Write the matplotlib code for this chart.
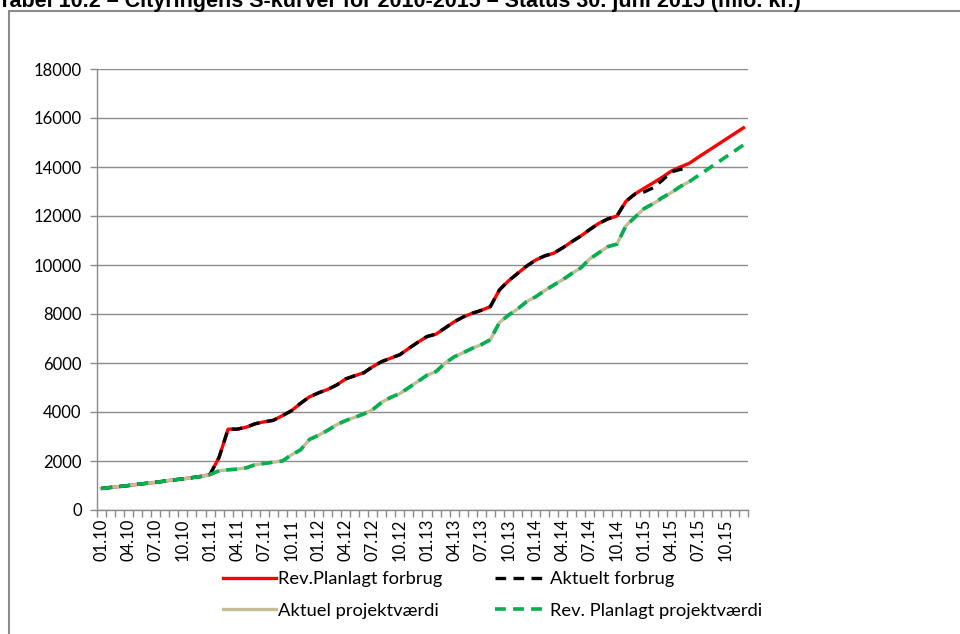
import matplotlib
matplotlib.use('Agg')
import matplotlib.pyplot as plt
from matplotlib.patches import Rectangle

plt.rcParams['font.family'] = ['Lato', 'DejaVu Sans']

# month labels 01.10 .. 12.15, only every third is shown
months = ['%02d.%02d' % (m, y) for y in range(10, 16) for m in range(1, 13)]

rev_planlagt_forbrug = [880, 920, 960, 1000, 1050, 1090, 1130, 1180, 1230, 1270, 1320, 1370,
                        1450, 2150, 3300, 3300, 3380, 3520, 3600, 3660, 3850, 4050, 4350, 4620,
                        4780, 4920, 5100, 5350, 5480, 5600, 5850, 6060, 6200, 6340, 6600, 6850,
                        7080, 7180, 7430, 7680, 7880, 8030, 8150, 8300, 8980, 9350, 9650, 9950,
                        10200, 10370, 10480, 10700, 10950, 11180, 11450, 11700, 11880, 12000, 12600, 12900,
                        13130, 13350, 13580, 13830, 14000, 14150, 14400, 14640, 14880, 15120, 15360, 15600]

aktuelt_forbrug = [880, 920, 960, 1000, 1050, 1090, 1130, 1180, 1230, 1270, 1320, 1370,
                   1450, 2150, 3300, 3300, 3380, 3520, 3600, 3660, 3850, 4050, 4350, 4620,
                   4780, 4920, 5100, 5350, 5480, 5600, 5850, 6060, 6200, 6340, 6600, 6850,
                   7080, 7180, 7430, 7680, 7880, 8030, 8150, 8300, 8980, 9350, 9650, 9950,
                   10200, 10370, 10480, 10700, 10950, 11180, 11450, 11700, 11880, 12000, 12600, 12900,
                   12980, 13150, 13450, 13800, 13900, 13950]

rev_planlagt_projektvaerdi = [880, 920, 960, 1000, 1050, 1090, 1130, 1180, 1230, 1270, 1320, 1370,
                              1450, 1600, 1640, 1670, 1720, 1850, 1900, 1950, 2000, 2250, 2450, 2880,
                              3050, 3250, 3480, 3650, 3780, 3920, 4100, 4400, 4600, 4750, 5000, 5250,
                              5500, 5650, 6000, 6250, 6420, 6600, 6750, 6950, 7650, 7950, 8200, 8500,
                              8700, 8950, 9180, 9400, 9650, 9880, 10250, 10500, 10750, 10850, 11600, 11950,
                              12300, 12500, 12750, 12950, 13200, 13400, 13650, 13900, 14150, 14400, 14650, 14900]

aktuel_projektvaerdi = [880, 920, 960, 1000, 1050, 1090, 1130, 1180, 1230, 1270, 1320, 1370,
                        1450, 1600, 1640, 1670, 1720, 1850, 1900, 1950, 2000, 2250, 2450, 2880,
                        3050, 3250, 3480, 3650, 3780, 3920, 4100, 4400, 4600, 4750, 5000, 5250,
                        5500, 5650, 6000, 6250, 6420, 6600, 6750, 6950, 7650, 7950, 8200, 8500,
                        8700, 8950, 9180, 9400, 9650, 9880, 10250, 10500, 10750, 10850, 11600, 11950,
                        12300, 12500, 12720, 12950, 13200, 13400]

fig = plt.figure(figsize=(9.6, 6.34), dpi=100)

# outer chart frame, cut by the right and bottom edges
fig.patches.append(Rectangle((8.5 / 960, -0.1), 1.0, 1 - 10.5 / 634 + 0.1, transform=fig.transFigure,
                             fill=False, edgecolor='#8c8c8c', linewidth=1.5))

# title sits half outside the top edge, as in the source picture
fig.text(-0.002, 1 - 7 / 634, 'Tabel 10.2 \u2013 Cityringens S-kurver for 2010-2015 \u2013 Status 30. juni 2015 (mio. kr.)',
         family=['Liberation Sans Narrow', 'Liberation Sans', 'DejaVu Sans'], weight='bold', fontsize=15.5,
         va='baseline', ha='left')

ax = fig.add_axes([97 / 960, (634 - 510) / 634, 651 / 960, 441 / 634])

x_all = list(range(len(months)))
l1, = ax.plot(x_all, rev_planlagt_forbrug, color='#ff0000', lw=2.4, solid_joinstyle='round')
l3, = ax.plot(x_all[:len(aktuel_projektvaerdi)], aktuel_projektvaerdi, color='#c4bd97', lw=2.4,
              solid_joinstyle='round')
l2, = ax.plot(x_all[:len(aktuelt_forbrug)], aktuelt_forbrug, color='black', lw=2.4, dashes=(3.2, 2.2))
l4, = ax.plot(x_all, rev_planlagt_projektvaerdi, color='#00b050', lw=2.6, dashes=(3.0, 2.0))

ax.set_xlim(-0.5, len(months) - 0.5)
ax.set_ylim(0, 18000)
ax.set_yticks(range(0, 18001, 2000))
ax.yaxis.grid(True, color='#8c8c8c', lw=1)
ax.set_axisbelow(True)

ax.set_xticks(x_all[::3])
ax.set_xticklabels(months[::3], rotation=90)
ax.set_xticks([i - 0.5 for i in range(len(months) + 1)], minor=True)
ax.tick_params(axis='x', which='major', length=0, pad=6, labelsize=12)
ax.tick_params(axis='x', which='minor', length=5, color='#8c8c8c', width=1)
ax.tick_params(axis='y', length=5, color='#8c8c8c', width=1, labelsize=12, pad=6)

for s in ['top', 'right']:
    ax.spines[s].set_visible(False)
for s in ['left', 'bottom']:
    ax.spines[s].set_color('#8c8c8c')
    ax.spines[s].set_linewidth(1)

fig.legend([l1, l3, l2, l4],
           ['Rev.Planlagt forbrug', 'Aktuel projektværdi', 'Aktuelt forbrug', 'Rev. Planlagt projektværdi'],
           ncol=2, frameon=False, fontsize=13.2, loc='center', bbox_to_anchor=(0.513, 1 - 595 / 634),
           handlelength=2.9, handletextpad=0.1, columnspacing=2.9, labelspacing=0.85)

fig.savefig('out.png', dpi=100)
